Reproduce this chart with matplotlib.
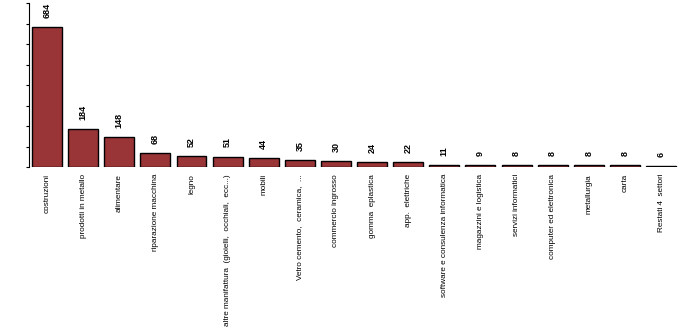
import matplotlib.pyplot as plt
import numpy as np

categories = [
    'costruzioni', 'prodotti in metallo', 'alimentare', 'riparazione macchina',
    'legno', 'altre manifattura  (gioielli,  occhiali,  ecc...)', 'mobili',
    'Vetro cemento,  ceramica,  ...', 'commercio ingrosso', 'gomma  eplastica',
    'app.  elettriche', 'software e consulenza informatica',
    'magazzini e logistica', 'servizi informatici', 'computer ed elettronica',
    'metallurgia', 'carta', 'Restati 4  settori',
]
values = [684, 184, 148, 68, 52, 51, 44, 35, 30, 24, 22, 11, 9, 8, 8, 8, 8, 6]

plt.rcParams['font.family'] = ['Liberation Sans', 'DejaVu Sans']

fig = plt.figure(figsize=(7, 3.33), dpi=100)
ax = fig.add_axes([0.0414, 0.4985, 0.9272, 0.4915])

x = np.arange(len(values))
ax.bar(x, values, width=0.83, color='#993537', edgecolor='black', linewidth=1.0)

for xi, v in zip(x, values):
    ax.text(xi, v + 45, str(v), rotation=90, ha='center', va='bottom',
            fontsize=6.5, fontweight='bold', clip_on=False)

ax.set_xlim(-0.5, len(values) - 0.53)
ax.set_ylim(0, 800)
ax.set_yticks(range(0, 801, 100))
ax.set_yticklabels([])
ax.tick_params(axis='y', direction='out', length=2.5, width=0.8)
ax.set_xticks(x)
ax.set_xticklabels(categories, rotation=90, fontsize=5.9, va='top', ha='center')
ax.tick_params(axis='x', length=0, pad=5)

for side in ['top', 'right', 'bottom']:
    ax.spines[side].set_visible(False)
ax.spines['left'].set_linewidth(0.8)

fig.savefig('out.png', dpi=100)
